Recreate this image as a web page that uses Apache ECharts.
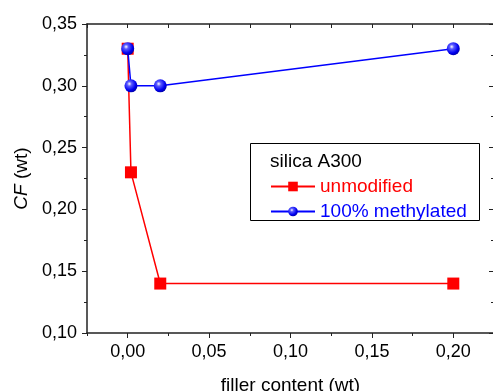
<!DOCTYPE html>
<html><head><meta charset="utf-8">
<script src="https://cdn.jsdelivr.net/npm/echarts@6/dist/echarts.min.js"></script>
<style>html,body{margin:0;padding:0;background:#fff}#c{width:493px;height:391px}</style>
</head><body><div id="c"></div>
<script>
const fillerUnmodified = [0, 0.002, 0.02, 0.2];
const cfUnmodified = [0.33, 0.23, 0.14, 0.14];
const fillerMethylated = [0, 0.002, 0.02, 0.2];
const cfMethylated = [0.33, 0.30, 0.30, 0.33];
const xTickValues = [0, 0.05, 0.10, 0.15, 0.20];
const seriesNames = ['unmodified', '100% methylated'];
const legendTitle = 'silica A300';
const xTitle = 'filler content (wt)';

const fmt = v => v.toFixed(2).replace('.', ',');
const FONT = '"Liberation Sans", Arial, sans-serif';
const AX = '#222';
const chart = echarts.init(document.getElementById('c'), null, {renderer: 'canvas'});
const grid = {left: 87, top: 24, width: 407, height: 309, containLabel: false, outerBoundsMode: 'none'};
const zip = (xs, ys) => xs.map((x, i) => [x, ys[i]]);

chart.setOption({
  animation: false,
  backgroundColor: '#fff',
  textStyle: {fontFamily: FONT},
  grid: grid,
  xAxis: [
    {
      type: 'value', position: 'bottom', min: -0.025, max: 0.225,
      axisLine: {show: true, onZero: false, lineStyle: {color: AX, width: 1.5}},
      axisTick: {show: true, customValues: xTickValues, length: 5, lineStyle: {color: AX, width: 1}},
      axisLabel: {customValues: xTickValues, formatter: fmt, fontSize: 18, color: '#000', margin: 10, fontFamily: FONT},
      splitLine: {show: false},
      name: xTitle, nameLocation: 'middle', nameGap: 43,
      nameTextStyle: {fontSize: 19, color: '#000', fontFamily: FONT}
    },
    {
      type: 'value', position: 'bottom', min: -0.025, max: 0.225, interval: 0.025,
      axisLine: {show: false, onZero: false},
      axisTick: {show: true, length: 3, lineStyle: {color: AX, width: 1}},
      axisLabel: {show: false}, splitLine: {show: false}
    },
    {
      type: 'value', position: 'top', min: -0.025, max: 0.225, interval: 0.025,
      axisLine: {show: true, onZero: false, lineStyle: {color: AX, width: 1.5}},
      axisTick: {show: true, inside: true, length: 4, lineStyle: {color: AX, width: 1}},
      axisLabel: {show: false}, splitLine: {show: false}
    }
  ],
  yAxis: [
    {
      type: 'value', position: 'left', min: 0.1, max: 0.35, interval: 0.05,
      axisLine: {show: true, onZero: false, lineStyle: {color: AX, width: 1.5}},
      axisTick: {show: true, length: 5, lineStyle: {color: AX, width: 1}},
      minorTick: {show: true, splitNumber: 2, length: 3, lineStyle: {color: AX, width: 1}},
      axisLabel: {formatter: fmt, fontSize: 18, color: '#000', margin: 10, fontFamily: FONT},
      splitLine: {show: false},
      name: '{i|CF} (wt)', nameLocation: 'middle', nameGap: 56,
      nameTextStyle: {fontSize: 19, color: '#000', fontFamily: FONT,
        rich: {i: {fontStyle: 'italic', fontSize: 19, color: '#000', fontFamily: FONT}}}
    },
    {
      type: 'value', position: 'right', min: 0.1, max: 0.35, interval: 0.05,
      axisLine: {show: true, onZero: false, lineStyle: {color: AX, width: 1.5}},
      axisTick: {show: true, inside: true, length: 5, lineStyle: {color: AX, width: 1}},
      minorTick: {show: true, splitNumber: 2, length: 3, lineStyle: {color: AX, width: 1}},
      axisLabel: {show: false}, splitLine: {show: false}
    }
  ],
  legend: {
    orient: 'vertical', left: 270, top: 177, padding: 0,
    itemWidth: 44, itemHeight: 12, itemGap: 6,
    textStyle: {fontSize: 19, fontFamily: FONT},
    data: [
      {name: seriesNames[0], textStyle: {color: '#ff0000'}},
      {name: seriesNames[1], textStyle: {color: '#0000ff'}}
    ]
  },
  graphic: [
    {type: 'rect', left: 250, top: 143, shape: {width: 229, height: 77},
      style: {fill: 'transparent', stroke: '#000', lineWidth: 1}, z: 100},
    {type: 'text', left: 270, top: 152,
      style: {text: legendTitle, fill: '#000', font: '19px ' + FONT}, z: 100}
  ],
  series: [
    {
      name: seriesNames[0], type: 'line', xAxisIndex: 0, yAxisIndex: 0,
      data: zip(fillerUnmodified, cfUnmodified),
      symbol: 'rect', symbolSize: 12, showAllSymbol: true,
      lineStyle: {color: '#ff0000', width: 1.5},
      itemStyle: {color: '#ff0000'}, z: 2
    },
    {
      name: seriesNames[1], type: 'line', xAxisIndex: 0, yAxisIndex: 0,
      data: zip(fillerMethylated, cfMethylated),
      symbol: 'circle', symbolSize: 13, showAllSymbol: true,
      lineStyle: {color: '#0000ff', width: 1.5},
      itemStyle: {color: {type: 'radial', x: 0.38, y: 0.35, r: 0.7,
        colorStops: [{offset: 0, color: '#ffffff'}, {offset: 0.25, color: '#5a5aff'}, {offset: 0.7, color: '#0000f0'}, {offset: 1, color: '#0000a0'}]}},
      z: 3
    }
  ]
});
</script></body></html>
